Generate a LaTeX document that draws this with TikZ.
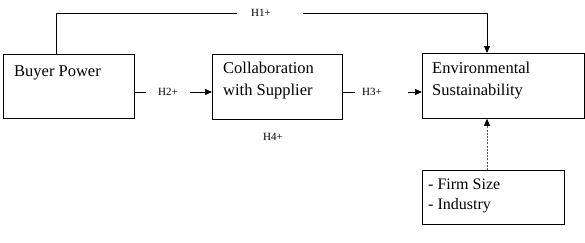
\documentclass[tikz,border=0pt]{standalone}
\usepackage{fontspec}
\setmainfont{Liberation Serif}
\usetikzlibrary{arrows.meta}
\begin{document}
\begin{tikzpicture}[x=1pt,y=-1pt,
  box/.style={draw, line width=0.8pt, rectangle, anchor=north west, inner sep=0pt},
  txt/.style={font=\fontsize{16.5}{22}\selectfont, align=left, inner sep=0pt, anchor=west},
  lbl/.style={font=\fontsize{11}{13}\selectfont, inner sep=0pt},
  conn/.style={line width=0.8pt},
  arr/.style={line width=0.8pt, -{Triangle[length=7pt,width=6pt]}}]
\useasboundingbox (0,0) rectangle (585,242);
% boxes
\node[box, minimum width=131pt, minimum height=64pt] (bp) at (3,54) {};
\node[box, minimum width=130pt, minimum height=65pt] (cs) at (212,54) {};
\node[box, minimum width=162pt, minimum height=65pt] (es) at (422,53) {};
\node[box, minimum width=142pt, minimum height=54pt] (cv) at (422,170) {};
% texts
\node[txt] (tbp) at (14,73) {Buyer Power};
\node[txt] (tcs) at (223,81) {Collaboration\\with Supplier};
\node[txt] (tes) at (432,81) {Environmental\\Sustainability};
\node[txt, font=\fontsize{16}{20}\selectfont] (tcv) at (428,196) {- Firm Size\\- Industry};
% labels
\node[lbl] (h1) at (261,13) {H1+};
\node[lbl] (h2) at (168,92) {H2+};
\node[lbl] (h3) at (372,92) {H3+};
\node[lbl] (h4) at (273,137) {H4+};
% coordinates
\coordinate (h1s) at (237,13);
\coordinate (h1e) at (303,13);
\coordinate (h2s) at (146,92);
\coordinate (h2e) at (190,92);
\coordinate (h3s) at (355,92);
\coordinate (h3e) at (408,92);
% H1
\draw[conn] ([xshift=53pt]bp.north west) |- (h1s);
\draw[arr] (h1e) -| ([xshift=65pt]es.north west);
% H2
\draw[conn] (bp.east |- h2s) -- (h2s);
\draw[arr] (h2e) -- (cs.west |- h2e);
% H3
\draw[conn] (cs.east |- h3s) -- (h3s);
\draw[arr] (h3e) -- (es.west |- h3e);
% control
\draw[line width=0.8pt, black!65, dash pattern=on 2pt off 1.2pt, -{Triangle[length=7pt,width=6pt,color=black]}] ([xshift=65pt]cv.north west) -- ([xshift=65pt]es.south west);
\end{tikzpicture}
\end{document}
